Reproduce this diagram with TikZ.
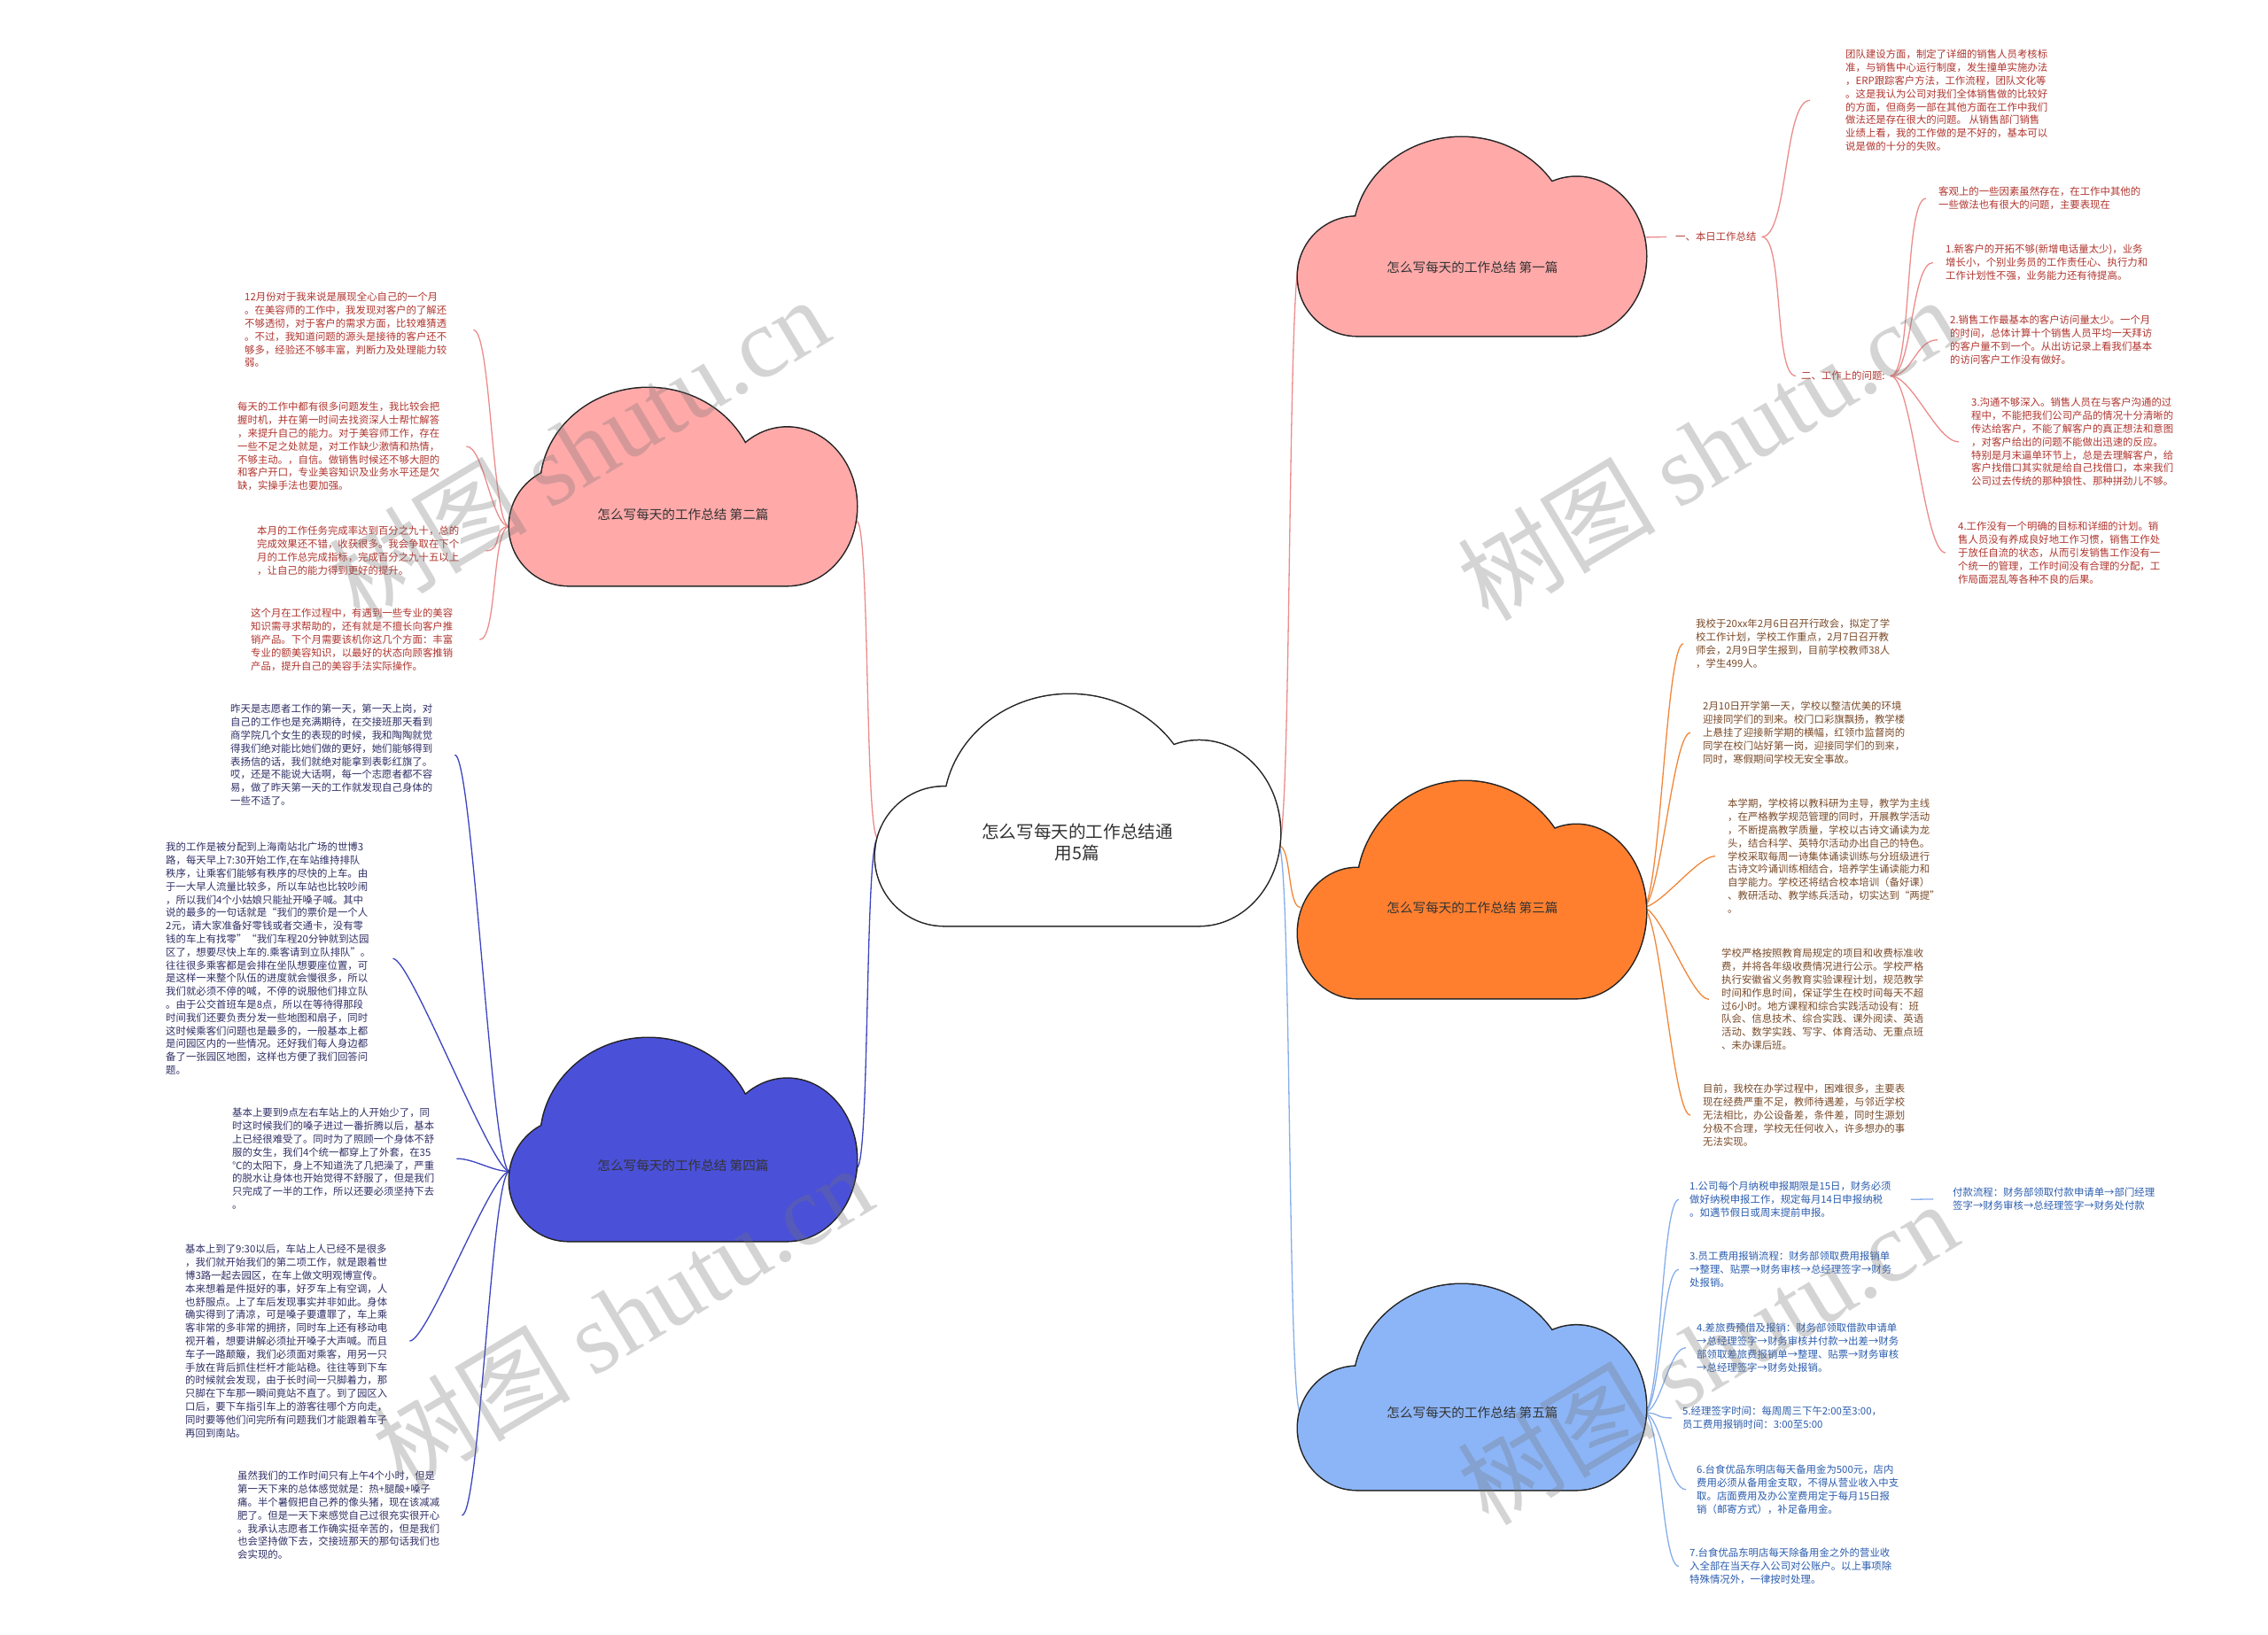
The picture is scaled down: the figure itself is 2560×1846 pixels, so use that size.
\documentclass[tikz,border=0pt]{standalone}
\usepackage{fontspec}
\setmainfont{Noto Sans CJK SC}
\newfontfamily\wmlatin{Liberation Serif}
\usetikzlibrary{calc}
\definecolor{tred}{HTML}{B0352E}
\definecolor{tbrown}{HTML}{7A4A28}
\definecolor{tnavy}{HTML}{2F2F66}
\definecolor{tblue}{HTML}{2B5DAE}
\definecolor{lpink}{HTML}{EC8C8C}
\definecolor{lorange}{HTML}{F0873A}
\definecolor{lblue}{HTML}{3C44C0}
\definecolor{llblue}{HTML}{86AEEA}
\definecolor{fpink}{HTML}{FFA9A9}
\definecolor{forange}{HTML}{FF7F2F}
\definecolor{fblue}{HTML}{4A50D8}
\definecolor{flblue}{HTML}{8CB5F7}
\definecolor{labc}{HTML}{333333}
\definecolor{cloudline}{HTML}{222222}
\newcommand\drawcloud[6]{%
  \pgfmathsetmacro\cLx{#1+0.17*#3}\pgfmathsetmacro\cLy{#2+0.70*#4}%
  \pgfmathsetmacro\cLrx{0.17*#3}\pgfmathsetmacro\cLry{0.30*#4}%
  \pgfmathsetmacro\cBx{#1+#5*#3}\pgfmathsetmacro\cBy{#2+0.5*#4}%
  \pgfmathsetmacro\cBrx{0.31*#3}\pgfmathsetmacro\cBry{0.5*#4}%
  \pgfmathsetmacro\cRx{#1+0.80*#3}\pgfmathsetmacro\cRy{#2+0.60*#4}%
  \pgfmathsetmacro\cRrx{0.20*#3}\pgfmathsetmacro\cRry{0.40*#4}%
  \pgfmathsetmacro\cBot{#2+#4}%
  \path[draw=cloudline,line width=3pt]
    (\cLx,\cLy) ellipse [x radius=\cLrx pt, y radius=\cLry pt]
    (\cBx,\cBy) ellipse [x radius=\cBrx pt, y radius=\cBry pt]
    (\cRx,\cRy) ellipse [x radius=\cRrx pt, y radius=\cRry pt]
    (\cLx,\cBy) rectangle (\cRx,\cBot);
  \path[fill=#6]
    (\cLx,\cLy) ellipse [x radius=\cLrx pt, y radius=\cLry pt]
    (\cBx,\cBy) ellipse [x radius=\cBrx pt, y radius=\cBry pt]
    (\cRx,\cRy) ellipse [x radius=\cRrx pt, y radius=\cRry pt]
    (\cLx,\cBy) rectangle (\cRx,\cBot);
}
\tikzset{
  blk/.style={inner sep=0pt, align=left, anchor=north west, font=\fontsize{11.4}{14.8}\selectfont},
  tR/.style={blk, text=tred},
  tB/.style={blk, text=tbrown},
  tN/.style={blk, text=tnavy},
  tL/.style={blk, text=tblue},
  cbox/.style={inner sep=0pt, outer sep=0pt, draw=none},
  clab/.style={inner sep=0pt, font=\fontsize{14.6}{17}\selectfont, text=labc},
  conn/.style={line width=1.3pt},
  wm/.style={rotate=31, text=black!55, text opacity=0.3, inner sep=0pt, font=\fontsize{112}{112}\selectfont},
}
\begin{document}
\begin{tikzpicture}[x=1pt,y=-1pt]
\useasboundingbox (0,0) rectangle (2560,1846);
\fill[white] (0,0) rectangle (2560,1846);

% cloud boxes
\node[cbox, minimum width=457pt, minimum height=261pt] (c0) at (1216.5,914.5) {};
\node[cbox, minimum width=393pt, minimum height=224pt] (c1) at (1661.5,267) {};
\node[cbox, minimum width=392pt, minimum height=223pt] (c2) at (771,549.5) {};
\node[cbox, minimum width=393pt, minimum height=245pt] (c3) at (1661.5,1004.5) {};
\node[cbox, minimum width=392pt, minimum height=229pt] (c4) at (771,1286.5) {};
\node[cbox, minimum width=393pt, minimum height=232pt] (c5) at (1661.5,1566) {};

% ---- branch 1 texts
\node[tR] (l1) at (1891,262) {一、本日工作总结};
\node[tR] (l2) at (2033,419) {二、工作上的问题:};
\node[tR] (V) at (2083,56) {团队建设方面，制定了详细的销售人员考核标\\准，与销售中心运行制度，发生撞单实施办法\\，ERP跟踪客户方法，工作流程，团队文化等\\。这是我认为公司对我们全体销售做的比较好\\的方面，但商务一部在其他方面在工作中我们\\做法还是存在很大的问题。 从销售部门销售\\业绩上看，我的工作做的是不好的，基本可以\\说是做的十分的失败。};
\node[tR] (W) at (2188,211) {客观上的一些因素虽然存在，在工作中其他的\\一些做法也有很大的问题，主要表现在};
\node[tR] (X) at (2196,276) {1.新客户的开拓不够(新增电话量太少)，业务\\增长小，个别业务员的工作责任心、执行力和\\工作计划性不强，业务能力还有待提高。};
\node[tR] (Y) at (2201,356) {2.销售工作最基本的客户访问量太少。一个月\\的时间，总体计算十个销售人员平均一天拜访\\的客户量不到一个。从出访记录上看我们基本\\的访问客户工作没有做好。};
\node[tR] (Z) at (2225,449) {3.沟通不够深入。销售人员在与客户沟通的过\\程中，不能把我们公司产品的情况十分清晰的\\传达给客户，不能了解客户的真正想法和意图\\，对客户给出的问题不能做出迅速的反应。\\特别是月末逼单环节上，总是去理解客户，给\\客户找借口其实就是给自己找借口，本来我们\\公司过去传统的那种狼性、那种拼劲儿不够。};
\node[tR] (AA) at (2210,589) {4.工作没有一个明确的目标和详细的计划。销\\售人员没有养成良好地工作习惯，销售工作处\\于放任自流的状态，从而引发销售工作没有一\\个统一的管理，工作时间没有合理的分配，工\\作局面混乱等各种不良的后果。};

% ---- branch 2 texts
\node[tR] (A) at (276,330) {12月份对于我来说是展现全心自己的一个月\\。在美容师的工作中，我发现对客户的了解还\\不够透彻，对于客户的需求方面，比较难猜透\\。不过，我知道问题的源头是接待的客户还不\\够多，经验还不够丰富，判断力及处理能力较\\弱。};
\node[tR] (B) at (268,454) {每天的工作中都有很多问题发生，我比较会把\\握时机，并在第一时间去找资深人士帮忙解答\\，来提升自己的能力。对于美容师工作，存在\\一些不足之处就是，对工作缺少激情和热情，\\不够主动。，自信。做销售时候还不够大胆的\\和客户开口，专业美容知识及业务水平还是欠\\缺，实操手法也要加强。};
\node[tR] (C) at (290,594) {本月的工作任务完成率达到百分之九十，总的\\完成效果还不错，收获很多。我会争取在下个\\月的工作总完成指标，完成百分之九十五以上\\，让自己的能力得到更好的提升。};
\node[tR] (D) at (283,687) {这个月在工作过程中，有遇到一些专业的美容\\知识需寻求帮助的，还有就是不擅长向客户推\\销产品。下个月需要该机你这几个方面：丰富\\专业的额美容知识，以最好的状态向顾客推销\\产品，提升自己的美容手法实际操作。};

% ---- branch 3 texts
\node[tB] (J) at (1914,699) {我校于20xx年2月6日召开行政会，拟定了学\\校工作计划，学校工作重点，2月7日召开教\\师会，2月9日学生报到，目前学校教师38人\\，学生499人。};
\node[tB] (K) at (1922,792) {2月10日开学第一天，学校以整洁优美的环境\\迎接同学们的到来。校门口彩旗飘扬，教学楼\\上悬挂了迎接新学期的横幅，红领巾监督岗的\\同学在校门站好第一岗，迎接同学们的到来，\\同时，寒假期间学校无安全事故。};
\node[tB] (L) at (1950,902) {本学期，学校将以教科研为主导，教学为主线\\，在严格教学规范管理的同时，开展教学活动\\，不断提高教学质量，学校以古诗文诵读为龙\\头，结合科学、英特尔活动办出自己的特色。\\学校采取每周一诗集体诵读训练与分班级进行\\古诗文吟诵训练相结合，培养学生诵读能力和\\自学能力。学校还将结合校本培训（备好课）\\、教研活动、教学练兵活动，切实达到“两提”\\。};
\node[tB] (M) at (1943,1071) {学校严格按照教育局规定的项目和收费标准收\\费，并将各年级收费情况进行公示。学校严格\\执行安徽省义务教育实验课程计划，规范教学\\时间和作息时间，保证学生在校时间每天不超\\过6小时。地方课程和综合实践活动设有：班\\队会、信息技术、综合实践、课外阅读、英语\\活动、数学实践、写字、体育活动、无重点班\\、未办课后班。};
\node[tB] (N) at (1922,1224) {目前，我校在办学过程中，困难很多，主要表\\现在经费严重不足，教师待遇差，与邻近学校\\无法相比，办公设备差，条件差，同时生源划\\分极不合理，学校无任何收入，许多想办的事\\无法实现。};

% ---- branch 4 texts
\node[tN] (E) at (260,795) {昨天是志愿者工作的第一天，第一天上岗，对\\自己的工作也是充满期待，在交接班那天看到\\商学院几个女生的表现的时候，我和陶陶就觉\\得我们绝对能比她们做的更好，她们能够得到\\表扬信的话，我们就绝对能拿到表彰红旗了。\\哎，还是不能说大话啊，每一个志愿者都不容\\易，做了昨天第一天的工作就发现自己身体的\\一些不适了。};
\node[tN] (F) at (187,951) {我的工作是被分配到上海南站北广场的世博3\\路，每天早上7:30开始工作,在车站维持排队\\秩序，让乘客们能够有秩序的尽快的上车。由\\于一大早人流量比较多，所以车站也比较吵闹\\，所以我们4个小姑娘只能扯开嗓子喊。其中\\说的最多的一句话就是“我们的票价是一个人\\2元，请大家准备好零钱或者交通卡，没有零\\钱的车上有找零”“我们车程20分钟就到达园\\区了，想要尽快上车的.乘客请到立队排队”。\\往往很多乘客都是会排在坐队想要座位置，可\\是这样一来整个队伍的进度就会慢很多，所以\\我们就必须不停的喊，不停的说服他们排立队\\。由于公交首班车是8点，所以在等待得那段\\时间我们还要负责分发一些地图和扇子，同时\\这时候乘客们问题也是最多的，一般基本上都\\是问园区内的一些情况。还好我们每人身边都\\备了一张园区地图，这样也方便了我们回答问\\题。};
\node[tN] (G) at (262,1251) {基本上要到9点左右车站上的人开始少了，同\\时这时候我们的嗓子进过一番折腾以后，基本\\上已经很难受了。同时为了照顾一个身体不舒\\服的女生，我们4个统一都穿上了外套，在35\\℃的太阳下，身上不知道洗了几把澡了，严重\\的脱水让身体也开始觉得不舒服了，但是我们\\只完成了一半的工作，所以还要必须坚持下去\\。};
\node[tN] (H) at (209,1405) {基本上到了9:30以后，车站上人已经不是很多\\，我们就开始我们的第二项工作，就是跟着世\\博3路一起去园区，在车上做文明观博宣传。\\本来想着是件挺好的事，好歹车上有空调，人\\也舒服点。上了车后发现事实并非如此。身体\\确实得到了清凉，可是嗓子要遭罪了，车上乘\\客非常的多非常的拥挤，同时车上还有移动电\\视开着，想要讲解必须扯开嗓子大声喊。而且\\车子一路颠簸，我们必须面对乘客，用另一只\\手放在背后抓住栏杆才能站稳。往往等到下车\\的时候就会发现，由于长时间一只脚着力，那\\只脚在下车那一瞬间竟站不直了。到了园区入\\口后，要下车指引车上的游客往哪个方向走，\\同时要等他们问完所有问题我们才能跟着车子\\再回到南站。};
\node[tN] (I) at (268,1661) {虽然我们的工作时间只有上午4个小时，但是\\第一天下来的总体感觉就是：热+腿酸+嗓子\\痛。半个暑假把自己养的像头猪，现在该减减\\肥了。但是一天下来感觉自己过很充实很开心\\。我承认志愿者工作确实挺辛苦的，但是我们\\也会坚持做下去，交接班那天的那句话我们也\\会实现的。};

% ---- branch 5 texts
\node[tL] (O) at (1907,1334) {1.公司每个月纳税申报期限是15日，财务必须\\做好纳税申报工作，规定每月14日申报纳税\\。如遇节假日或周末提前申报。};
\node[tL] (P) at (2204,1341) {付款流程：财务部领取付款申请单→部门经理\\签字→财务审核→总经理签字→财务处付款};
\node[tL] (Q) at (1907,1413) {3.员工费用报销流程：财务部领取费用报销单\\→整理、贴票→财务审核→总经理签字→财务\\处报销。};
\node[tL] (R) at (1915,1494) {4.差旅费预借及报销：财务部领取借款申请单\\→总经理签字→财务审核并付款→出差→财务\\部领取差旅费报销单→整理、贴票→财务审核\\→总经理签字→财务处报销。};
\node[tL] (S) at (1899,1588) {5.经理签字时间：每周周三下午2:00至3:00，\\员工费用报销时间：3:00至5:00};
\node[tL] (T) at (1915,1654) {6.台食优品东明店每天备用金为500元，店内\\费用必须从备用金支取，不得从营业收入中支\\取。店面费用及办公室费用定于每月15日报\\销（邮寄方式），补足备用金。};
\node[tL] (U) at (1907,1748) {7.台食优品东明店每天除备用金之外的营业收\\入全部在当天存入公司对公账户。以上事项除\\特殊情况外，一律按时处理。};

% ---- connectors: center to clouds
\draw[conn,lpink] ($(c0.east)+(-2,40)$) to[out=0,in=180,distance=15pt] ($(c1.west)+(3,24)$);
\draw[conn,lorange] ($(c0.east)+(-2,40)$) to[out=0,in=180,distance=15pt] ($(c3.west)+(3,20)$);
\draw[conn,llblue] ($(c0.east)+(-2,40)$) to[out=0,in=180,distance=15pt] ($(c5.west)+(3,29)$);
\draw[conn,lpink] ($(c0.west)+(3,32)$) to[out=180,in=0,distance=15pt] ($(c2.east)+(0,39)$);
\draw[conn,lblue] ($(c0.west)+(3,32)$) to[out=180,in=0,distance=15pt] ($(c4.east)+(0,32)$);

% branch 1
\draw[conn,lpink] ($(c1.east)+(-4,1)$) -- ($(l1.west)+(-10,0)$);
\draw[conn,lpink] ($(l1.east)+(6,0)$) to[out=0,in=180,distance=30pt] ($(V.west)+(-40,0)$);
\draw[conn,lpink] ($(l1.east)+(6,0)$) to[out=0,in=180,distance=25pt] ($(l2.west)+(-6,0)$);
\foreach \t in {W,X,Y,Z,AA} {
  \draw[conn,lpink] ($(l2.east)+(6,0)$) to[out=0,in=180,distance=25pt] ($(\t.west)+(-14,0)$);
}
% branch 2
\foreach \t in {A,B,C,D} {
  \draw[conn,lpink] ($(c2.west)+(0,45)$) to[out=180,in=0,distance=20pt] ($(\t.east)+(30,0)$);
}
% branch 3
\foreach \t in {J,K,L,M,N} {
  \draw[conn,lorange] ($(c3.east)+(-4,20)$) to[out=0,in=180,distance=20pt] ($(\t.west)+(-14,0)$);
}
% branch 4
\foreach \t in {E,F,G,H,I} {
  \draw[conn,lblue] ($(c4.west)+(0,36)$) to[out=180,in=0,distance=20pt] ($(\t.east)+(25,0)$);
}
% branch 5
\foreach \t in {O,Q,R,S,T,U} {
  \draw[conn,llblue] ($(c5.east)+(-3,29)$) to[out=0,in=180,distance=20pt] ($(\t.west)+(-12,0)$);
}
\draw[conn,llblue] ($(O.east)+(22,0)$) -- ($(P.west)+(-22,0)$);

% ---- clouds
\drawcloud{988}{784}{457}{261}{0.48}{white}
\drawcloud{1465}{155}{393}{224}{0.47}{fpink}
\drawcloud{575}{438}{392}{223}{0.40}{fpink}
\drawcloud{1465}{882}{393}{245}{0.48}{forange}
\drawcloud{575}{1172}{392}{229}{0.40}{fblue}
\drawcloud{1465}{1450}{393}{232}{0.47}{flblue}

\node[clab, align=center, font=\fontsize{19.6}{24.5}\selectfont] (c0t) at (1216,951) {怎么写每天的工作总结通\\用5篇};
\node[clab] (c1t) at (1662,302) {怎么写每天的工作总结 第一篇};
\node[clab] (c2t) at (771,581) {怎么写每天的工作总结 第二篇};
\node[clab] (c3t) at (1662,1025) {怎么写每天的工作总结 第三篇};
\node[clab] (c4t) at (771,1316) {怎么写每天的工作总结 第四篇};
\node[clab] (c5t) at (1662,1595) {怎么写每天的工作总结 第五篇};

% ---- watermarks
\node[wm] (wm1) at (653,506) {树图 {\wmlatin shutu.cn}};
\node[wm] (wm2) at (1927,506) {树图 {\wmlatin shutu.cn}};
\node[wm] (wm3) at (702,1486) {树图 {\wmlatin shutu.cn}};
\node[wm] (wm4) at (1927,1527) {树图 {\wmlatin shutu.cn}};
\end{tikzpicture}
\end{document}
